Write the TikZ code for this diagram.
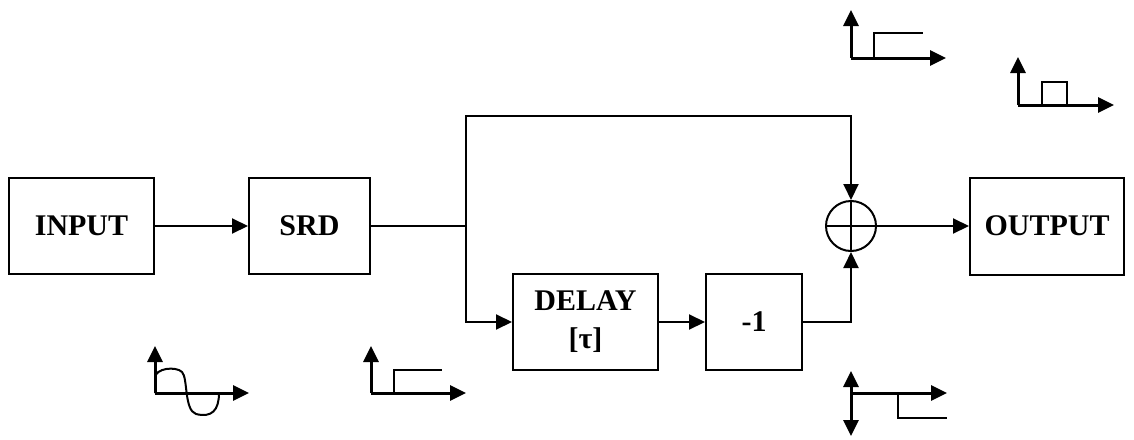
\documentclass[tikz,border=0pt]{standalone}
\usepackage{fontspec}
\setmainfont{Liberation Serif}
\usetikzlibrary{arrows.meta}

\tikzset{
	blockbox/.style={draw=black, line width=2pt, inner sep=0pt, align=center,
		font=\fontsize{30}{38}\selectfont\bfseries},
	sig/.style={black, line width=2pt, -{Triangle[length=16pt,width=15pt]}},
	axis/.style={black, line width=3pt, -{Triangle[length=16pt,width=15pt]}},
	wave/.style={black, line width=2pt}
}

\begin{document}
\begin{tikzpicture}[x=1pt, y=-1pt]
	\useasboundingbox (0,0) rectangle (1134,439);
	
	\node[blockbox, minimum width=145pt, minimum height=96pt] (inp) at (81.5,226){INPUT};
	\node[blockbox, minimum width=121pt, minimum height=96pt] (srd) at (309.5,226){SRD};
	\node[blockbox, minimum width=145pt, minimum height=96pt] (delay) at (585.5,322){DELAY\\{[}τ{]}};
	\node[blockbox, minimum width=96pt, minimum height=96pt] (neg) at (754,322){-1};
	\node[blockbox, minimum width=154pt, minimum height=97pt] (outp) at (1047,226){OUTPUT};
	\node[draw=black, line width=2pt, circle, minimum size=50pt, inner sep=0pt] (sum) at (851,226){};
	\draw[black, line width=2pt](sum.north)--(sum.south);
	\draw[black, line width=2pt](sum.west)--(sum.east);
	
	\coordinate (split) at (466,226);
	\coordinate (top) at (466,116);
	
	\draw[sig](inp.east)--(srd.west);
	\draw[wave](srd.east)--(split);
	\draw[sig](split)--(top)-|(sum.north);
	\draw[sig](split)|-(delay.west);
	\draw[sig](delay.east)--(neg.west);
	\draw[sig](neg.east)-|(sum.south);
	\draw[sig](sum.east)--(outp.west);
	
	% input signal
	\draw[axis](155,393)--(155,346);
	\draw[axis](155,393)--(249,393);
	\draw[wave](155,393)--(155,378) .. controls (155,368) and (176,366) .. (182,372)
		.. controls (188,378) and (184,410) .. (196,414)
		.. controls (212,418) and (219,410) .. (219,393);
	
	% after SRD
	\draw[axis](371,393)--(371,346);
	\draw[axis](371,393)--(466,393);
	\draw[wave](394,393)--(394,370)--(442,370);
	
	% upper branch
	\draw[axis](851,58)--(851,10);
	\draw[axis](851,58)--(946,58);
	\draw[wave](874,58)--(874,33)--(923,33);
	
	% output pulse
	\draw[axis](1018,105)--(1018,57);
	\draw[axis](1018,105)--(1114,105);
	\draw[wave](1042,105)--(1042,82)--(1067,82)--(1067,105);
	
	% inverted branch
	\draw[axis](851,393)--(851,371);
	\draw[axis](851,393)--(851,436);
	\draw[axis](851,393)--(947,393);
	\draw[wave](898,393)--(898,418)--(947,418);
\end{tikzpicture}
\end{document}
